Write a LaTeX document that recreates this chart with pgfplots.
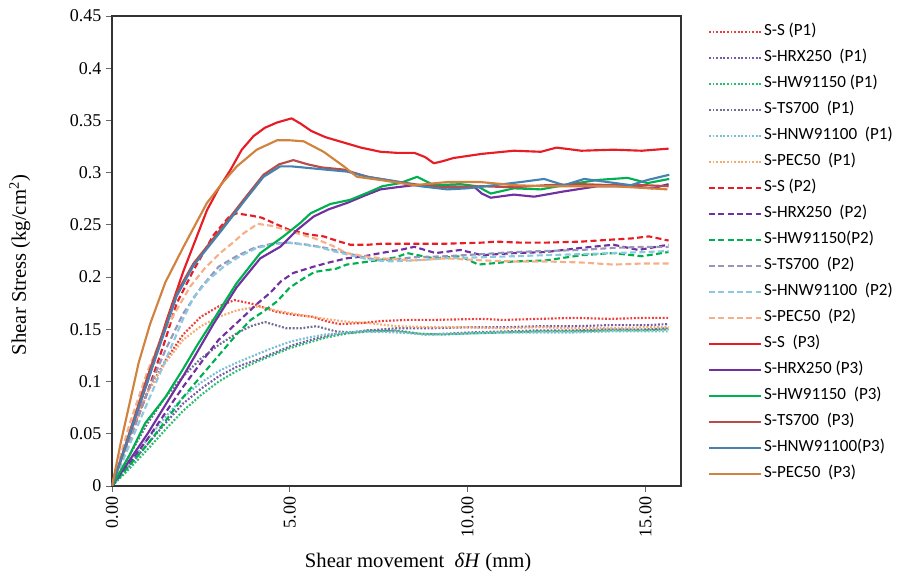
\documentclass[border=0pt]{standalone}
\usepackage{pgfplots}
\pgfplotsset{compat=1.18}
\usepackage{fontspec}
\setmainfont{Liberation Serif}
\newfontfamily\legfont{Carlito}
\definecolor{cRed}{RGB}{232,28,36}
\definecolor{cPur}{RGB}{112,48,160}
\definecolor{cGrn}{RGB}{0,176,80}
\definecolor{cBrn}{RGB}{185,75,72}
\definecolor{cBlu}{RGB}{70,130,175}
\definecolor{cOrg}{RGB}{208,130,62}
\definecolor{cRed1}{RGB}{240,60,60}
\definecolor{cPur1}{RGB}{120,90,170}
\definecolor{cGrn1}{RGB}{40,190,110}
\definecolor{cTs1}{RGB}{110,110,150}
\definecolor{cHn1}{RGB}{120,190,210}
\definecolor{cOr1}{RGB}{245,170,110}
\definecolor{cTs2}{RGB}{150,150,185}
\definecolor{cHn2}{RGB}{140,200,222}
\definecolor{cOr2}{RGB}{247,175,135}
\begin{document}
\begin{tikzpicture}
\begin{axis}[
  name=ax, at={(0,0)}, anchor=south west,
  scale only axis, width=426.75pt, height=352.5pt,
  xmin=0, xmax=16, ymin=0, ymax=0.45,
  xtick={0,5,10,15}, xticklabels={0.00,5.00,10.00,15.00},
  ytick={0,0.05,0.1,0.15,0.2,0.25,0.3,0.35,0.4,0.45},
  yticklabels={0,0.05,0.1,0.15,0.2,0.25,0.3,0.35,0.4,0.45},
  x tick label style={rotate=90, anchor=east, font=\fontsize{13.5}{15}\selectfont},
  y tick label style={font=\fontsize{13.5}{15}\selectfont},
  tick align=outside, tick pos=left, major tick length=4.5pt,
  axis line style={black!80, line width=1pt},
  every tick/.style={black!60, line width=0.6pt},
  xlabel={Shear movement \ \textit{δH} (mm)},
  ylabel={Shear Stress (kg/cm\textsuperscript{2})},
  label style={font=\fontsize{15.5}{18}\selectfont},
  xlabel style={at={(axis description cs:0.538,0)}, anchor=north, yshift=-47pt},
  ylabel style={at={(axis description cs:-0.162,0.47)}, anchor=center},
  legend style={draw=none, fill=none, inner sep=0pt,
    at={(axis description cs:1,1)}, anchor=north west, xshift=20pt, yshift=-2pt,
    font=\legfont\fontsize{12.8}{14}\selectfont, row sep=0pt,
    nodes={inner xsep=1.5pt, inner ysep=3.5pt, text height=9pt, text depth=3.5pt}},
  legend cell align=left,
  legend image code/.code={\draw[#1] (0pt,0pt) -- (39pt,0pt);},
  every axis plot/.append style={line width=1.6pt, line join=round},
]
% ---------- P1 dotted ----------
\addplot[cRed1, dash pattern=on 1.4pt off 1.3pt] coordinates {(0,0)(0.5,0.048)(1,0.09)(1.5,0.12)(2,0.145)(2.5,0.162)(3,0.172)(3.45,0.178)(4,0.174)(4.6,0.167)(5.1,0.164)(5.65,0.162)(6.0,0.158)(6.4,0.155)(7,0.156)(7.6,0.158)(8.3,0.159)(9,0.159)(10.4,0.160)(11,0.159)(12,0.160)(13,0.161)(14,0.160)(15,0.161)(15.65,0.161)};
\addlegendentry{S-S (P1)}
\addplot[cPur1, dash pattern=on 1.4pt off 1.3pt] coordinates {(0,0)(0.5,0.02)(1,0.04)(1.5,0.06)(2,0.079)(2.5,0.093)(3,0.105)(3.5,0.114)(4.1,0.121)(4.6,0.128)(5.1,0.135)(5.6,0.140)(6.2,0.145)(6.7,0.147)(7.2,0.149)(8,0.151)(9,0.151)(10,0.152)(11,0.152)(12,0.153)(13,0.153)(14,0.154)(15,0.154)(15.65,0.155)};
\addlegendentry{S-HRX250\ \ (P1)}
\addplot[cGrn1, dash pattern=on 1.4pt off 1.3pt] coordinates {(0,0)(0.5,0.017)(1,0.035)(1.5,0.054)(2,0.072)(2.5,0.087)(3,0.1)(3.5,0.11)(4,0.118)(4.5,0.125)(5,0.132)(5.5,0.137)(6,0.142)(6.6,0.146)(7.2,0.148)(8,0.149)(8.6,0.146)(9.3,0.145)(10,0.146)(11,0.147)(12,0.148)(13,0.148)(14,0.149)(15,0.149)(15.65,0.150)};
\addlegendentry{S-HW91150 (P1)}
\addplot[cTs1, dash pattern=on 1.4pt off 1.3pt] coordinates {(0,0)(0.5,0.03)(1,0.06)(1.5,0.085)(2,0.105)(2.5,0.122)(3,0.135)(3.5,0.146)(3.9,0.153)(4.3,0.157)(4.6,0.154)(4.9,0.151)(5.3,0.151)(5.75,0.153)(6.3,0.148)(6.8,0.147)(7.2,0.149)(8,0.148)(8.8,0.145)(9.5,0.146)(10,0.147)(11,0.148)(12,0.149)(13,0.149)(14,0.150)(15,0.150)(15.65,0.151)};
\addlegendentry{S-TS700\ \ (P1)}
\addplot[cHn1, dash pattern=on 1.4pt off 1.3pt] coordinates {(0,0)(0.5,0.022)(1,0.045)(1.5,0.066)(2,0.085)(2.5,0.099)(3,0.11)(3.5,0.118)(4,0.125)(4.5,0.132)(5,0.138)(5.5,0.142)(6,0.145)(7,0.148)(8,0.147)(9,0.145)(10,0.146)(11,0.147)(12,0.147)(13,0.147)(14,0.148)(15,0.148)(15.65,0.148)};
\addlegendentry{S-HNW91100\ \ (P1)}
\addplot[cOr1, dash pattern=on 1.4pt off 1.3pt] coordinates {(0,0)(0.5,0.05)(1,0.09)(1.5,0.118)(2,0.14)(2.5,0.153)(3,0.162)(3.5,0.168)(4.1,0.172)(4.6,0.168)(5.1,0.165)(5.6,0.162)(6.2,0.159)(6.7,0.157)(7.2,0.156)(8,0.153)(9,0.152)(10,0.152)(11,0.151)(12,0.152)(13,0.151)(14,0.151)(15,0.152)(15.65,0.152)};
\addlegendentry{S-PEC50\ \ (P1)}
% ---------- P2 dashed ----------
\addplot[cRed, dash pattern=on 4.5pt off 2.5pt] coordinates {(0,0)(0.5,0.045)(1,0.09)(1.5,0.14)(1.82,0.175)(2.3,0.207)(2.85,0.240)(3.3,0.258)(3.5,0.261)(3.9,0.259)(4.2,0.257)(4.6,0.251)(5.0,0.245)(5.5,0.241)(5.95,0.239)(6.3,0.235)(6.7,0.231)(7.2,0.231)(7.6,0.232)(8.5,0.232)(9.4,0.232)(10.4,0.233)(10.8,0.234)(11.5,0.233)(12.2,0.233)(13.2,0.234)(14.1,0.236)(14.6,0.237)(15.1,0.239)(15.65,0.235)};
\addlegendentry{S-S (P2)}
\addplot[cPur, dash pattern=on 4.5pt off 2.5pt] coordinates {(0,0)(0.5,0.022)(1,0.045)(1.5,0.07)(2,0.095)(2.5,0.118)(3,0.14)(3.6,0.159)(4.1,0.175)(4.45,0.185)(4.75,0.196)(5.1,0.204)(5.67,0.210)(6.1,0.214)(6.6,0.218)(7.1,0.220)(7.55,0.223)(8.1,0.226)(8.5,0.229)(9.1,0.223)(9.8,0.226)(10.4,0.221)(11.3,0.223)(12.2,0.224)(13.2,0.228)(14.1,0.231)(14.8,0.226)(15.65,0.231)};
\addlegendentry{S-HRX250\ \ (P2)}
\addplot[cGrn, dash pattern=on 4.5pt off 2.5pt] coordinates {(0,0)(0.5,0.02)(1,0.04)(1.5,0.062)(2,0.085)(2.5,0.105)(3,0.125)(3.5,0.145)(3.9,0.159)(4.3,0.168)(4.65,0.177)(5.0,0.190)(5.4,0.199)(5.7,0.205)(6.3,0.208)(6.6,0.212)(7.45,0.216)(8.0,0.219)(8.3,0.223)(9.05,0.218)(9.8,0.220)(10.3,0.212)(11.3,0.215)(12.2,0.216)(13.2,0.221)(14.1,0.223)(14.9,0.220)(15.65,0.224)};
\addlegendentry{S-HW91150(P2)}
\addplot[cTs2, dash pattern=on 4.5pt off 2.5pt] coordinates {(0,0)(0.5,0.045)(1,0.09)(1.5,0.13)(2,0.165)(2.5,0.19)(3,0.21)(3.5,0.22)(4,0.228)(4.5,0.232)(5,0.233)(5.5,0.231)(6,0.228)(6.6,0.223)(7.2,0.218)(7.6,0.216)(8.5,0.219)(9.4,0.220)(10.4,0.222)(11.3,0.224)(12.2,0.225)(13.2,0.226)(14.1,0.228)(15,0.229)(15.65,0.229)};
\addlegendentry{S-TS700\ \ (P2)}
\addplot[cHn2, dash pattern=on 4.5pt off 2.5pt] coordinates {(0,0)(0.5,0.04)(1,0.08)(1.5,0.12)(2,0.16)(2.3,0.181)(2.7,0.197)(3.14,0.210)(3.6,0.220)(4.07,0.228)(4.5,0.231)(4.92,0.233)(5.4,0.231)(5.8,0.229)(6.2,0.225)(6.7,0.221)(7.2,0.217)(7.74,0.215)(8.5,0.216)(9.4,0.218)(10.4,0.219)(11.3,0.220)(12.2,0.221)(13.2,0.222)(14.1,0.223)(15,0.224)(15.65,0.225)};
\addlegendentry{S-HNW91100\ \ (P2)}
\addplot[cOr2, dash pattern=on 4.5pt off 2.5pt] coordinates {(0,0)(0.5,0.06)(1,0.11)(1.5,0.15)(2.2,0.191)(2.6,0.208)(3.04,0.223)(3.4,0.233)(3.7,0.242)(4.1,0.251)(4.5,0.249)(4.9,0.245)(5.3,0.241)(5.7,0.237)(6.2,0.230)(6.6,0.223)(7.1,0.220)(7.55,0.218)(8.5,0.216)(9.4,0.218)(10.4,0.216)(11.3,0.215)(12.2,0.215)(13.2,0.214)(14.1,0.212)(14.9,0.213)(15.65,0.213)};
\addlegendentry{S-PEC50\ \ (P2)}
% ---------- P3 solid ----------
\addplot[cRed] coordinates {(0,0)(0.5,0.05)(1,0.10)(1.54,0.159)(2,0.205)(2.67,0.264)(3.0,0.285)(3.32,0.302)(3.65,0.322)(3.98,0.335)(4.3,0.343)(4.64,0.348)(5.05,0.352)(5.3,0.347)(5.6,0.340)(6.0,0.334)(6.6,0.328)(7.0,0.324)(7.55,0.320)(8.0,0.319)(8.5,0.319)(8.8,0.315)(9.05,0.309)(9.3,0.311)(9.6,0.314)(10.4,0.318)(11.3,0.321)(12.06,0.320)(12.5,0.324)(13.2,0.321)(14.1,0.322)(14.9,0.321)(15.65,0.323)};
\addlegendentry{S-S\ \ (P3)}
\addplot[cPur] coordinates {(0,0)(0.5,0.025)(1,0.05)(2,0.105)(2.85,0.155)(3.5,0.19)(4.17,0.218)(4.73,0.229)(5.2,0.245)(5.67,0.258)(6.1,0.265)(6.61,0.271)(7.1,0.278)(7.55,0.284)(8.0,0.286)(8.49,0.288)(9.43,0.287)(10.2,0.286)(10.4,0.280)(10.65,0.276)(11.3,0.279)(11.87,0.277)(12.7,0.282)(13.65,0.287)(14.59,0.287)(15.2,0.285)(15.65,0.289)};
\addlegendentry{S-HRX250 (P3)}
\addplot[cGrn] coordinates {(0,0)(0.5,0.03)(0.93,0.06)(1.5,0.085)(1.98,0.111)(2.4,0.135)(2.85,0.159)(3.5,0.194)(4.17,0.223)(4.82,0.239)(5.3,0.252)(5.58,0.261)(6.14,0.270)(6.7,0.274)(7.27,0.282)(7.6,0.287)(8.1,0.290)(8.58,0.296)(9.05,0.288)(9.8,0.289)(10.27,0.287)(10.65,0.280)(11.3,0.285)(12.06,0.284)(12.71,0.288)(13.65,0.293)(14.5,0.295)(15.06,0.290)(15.67,0.294)};
\addlegendentry{S-HW91150\ \ (P3)}
\addplot[cBrn] coordinates {(0,0)(0.5,0.052)(1,0.105)(1.82,0.185)(2.29,0.213)(3.04,0.245)(3.7,0.274)(4.26,0.298)(4.7,0.308)(5.1,0.312)(5.5,0.308)(5.9,0.305)(6.5,0.303)(7.2,0.296)(7.9,0.292)(8.7,0.288)(9.4,0.286)(10.4,0.287)(11.3,0.286)(12.2,0.288)(13.2,0.289)(14.1,0.288)(15.0,0.288)(15.65,0.287)};
\addlegendentry{S-TS700\ \ (P3)}
\addplot[cBlu] coordinates {(0,0)(0.5,0.05)(1,0.10)(1.82,0.182)(2.29,0.211)(3.04,0.243)(3.7,0.272)(4.26,0.296)(4.73,0.306)(5.06,0.306)(5.67,0.304)(6.61,0.301)(7.18,0.296)(7.93,0.292)(8.68,0.287)(9.43,0.284)(9.99,0.285)(10.74,0.288)(11.49,0.291)(12.15,0.294)(12.71,0.288)(13.28,0.294)(13.94,0.291)(14.59,0.288)(15.06,0.293)(15.67,0.298)};
\addlegendentry{S-HNW91100(P3)}
\addplot[cOrg] coordinates {(0,0)(0.25,0.042)(0.5,0.08)(0.75,0.118)(1.07,0.155)(1.5,0.195)(2.01,0.229)(2.67,0.271)(3.1,0.29)(3.51,0.306)(4.07,0.322)(4.64,0.331)(5.0,0.331)(5.39,0.330)(5.95,0.320)(6.52,0.306)(6.89,0.296)(7.55,0.293)(8.49,0.288)(9.43,0.291)(10.37,0.291)(11.3,0.288)(12.24,0.287)(13.18,0.287)(14.12,0.287)(15.62,0.284)};
\addlegendentry{S-PEC50\ \ (P3)}
\end{axis}
\path[use as bounding box] (-84pt,-66pt) rectangle (588.75pt,364.5pt);
\end{tikzpicture}
\end{document}
